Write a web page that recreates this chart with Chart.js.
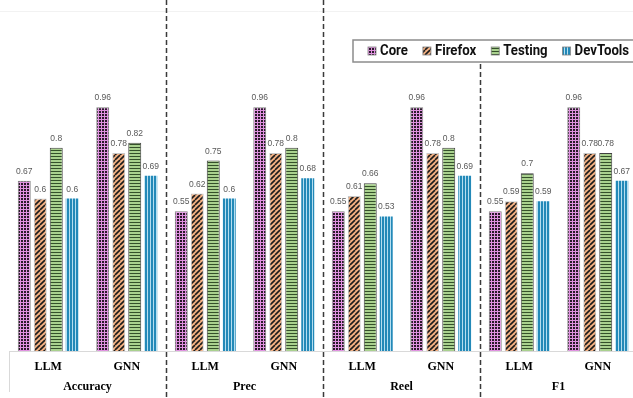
<!DOCTYPE html>
<html>
<head>
<meta charset="utf-8">
<script src="https://cdn.jsdelivr.net/npm/chart.js@4.4.1/dist/chart.umd.min.js"></script>
<style>
  html, body { margin: 0; padding: 0; background: #fff; overflow: hidden; }
  #wrap { width: 637px; height: 398px; position: relative; }
</style>
</head>
<body>
<div id="wrap"><canvas id="chart"></canvas></div>
<script>
// chart data
const categories = ['LLM', 'GNN', 'LLM', 'GNN', 'LLM', 'GNN', 'LLM', 'GNN'];
const groups = ['Accuracy', 'Prec', 'Reel', 'F1'];
const seriesNames = ['Core', 'Firefox', 'Testing', 'DevTools'];
const core = [0.67, 0.96, 0.55, 0.96, 0.55, 0.96, 0.55, 0.96];
const firefox = [0.6, 0.78, 0.62, 0.78, 0.61, 0.78, 0.59, 0.78];
const testing = [0.8, 0.82, 0.75, 0.8, 0.66, 0.8, 0.7, 0.78];
const devtools = [0.6, 0.69, 0.6, 0.68, 0.53, 0.69, 0.59, 0.67];

let canvas = document.getElementById('chart');
let mainCtx = canvas.getContext('2d');

// build a repeating fill from a small tile
function makePattern(w, h, draw){
	let tile = document.createElement('canvas');
	tile.width = w;
	tile.height = h;
	draw(tile.getContext('2d'), w, h);
	return mainCtx.createPattern(tile, 'repeat');
}

let corePattern = makePattern(3, 3, (g, w, h) => {
	g.fillStyle = '#e091e0';
	g.fillRect(0, 0, w, h);
	g.fillStyle = '#2a1a2a';
	g.fillRect(0, 0, 2, 2);
});

let firefoxPattern = makePattern(5, 5, (g, w, h) => {
	g.fillStyle = '#f4b183';
	g.fillRect(0, 0, w, h);
	g.strokeStyle = '#1c1c1c';
	g.lineWidth = 1.6;
	for(let k = -1; k <= 1; k++){
		g.beginPath();
		g.moveTo(k * w, h);
		g.lineTo(k * w + w, 0);
		g.stroke();
	}
});

let testingPattern = makePattern(3, 3, (g, w, h) => {
	g.fillStyle = '#a9d18e';
	g.fillRect(0, 0, w, h);
	g.fillStyle = '#34502a';
	g.fillRect(0, 0, w, 1);
});

let devtoolsPattern = makePattern(3, 3, (g, w, h) => {
	g.fillStyle = '#2389b8';
	g.fillRect(0, 0, w, h);
	g.fillStyle = '#b5def0';
	g.fillRect(0, 0, 1, h);
});

// value labels above every bar
const valueLabels = {
	id: 'valueLabels',
	afterDatasetsDraw(chart){
		let ctx = chart.ctx;
		ctx.save();
		ctx.font = '8.5px "Liberation Sans", Arial, sans-serif';
		ctx.fillStyle = '#595959';
		ctx.textAlign = 'center';
		ctx.textBaseline = 'bottom';
		chart.data.datasets.forEach((ds, i) => {
			chart.getDatasetMeta(i).data.forEach((bar, j) => {
				ctx.fillText(String(ds.data[j]), bar.x, bar.y - 5);
			});
		});
		ctx.restore();
	}
};

// legend box (drawn by hand to get the framed look)
const legendBox = { x: 353, y: 40, w: 300, h: 22 };
const legendSquash = 0.91; // the legend font is a narrow one

const frameAndLegend = {
	id: 'frameAndLegend',
	afterDraw(chart){
		let ctx = chart.ctx;
		let xs = chart.scales.x;
		let area = chart.chartArea;
		ctx.save();

		// faint top line
		ctx.strokeStyle = '#f2f2f2';
		ctx.lineWidth = 1;
		ctx.beginPath();
		ctx.moveTo(0, 11.5);
		ctx.lineTo(chart.width, 11.5);
		ctx.stroke();

		// left edge of the label band
		ctx.strokeStyle = '#d9d9d9';
		ctx.beginPath();
		ctx.moveTo(area.left + 0.5, area.bottom);
		ctx.lineTo(area.left + 0.5, area.bottom + 41);
		ctx.stroke();

		// dashed separators between metric groups
		ctx.strokeStyle = '#3a3a3a';
		ctx.lineWidth = 1.5;
		ctx.setLineDash([5, 3]);
		for(let i = 2; i < categories.length; i += 2){
			let x = Math.round((xs.getPixelForValue(i - 1) + xs.getPixelForValue(i)) / 2) + 0.5;
			let top = (x > legendBox.x && x < legendBox.x + legendBox.w) ? legendBox.y + legendBox.h + 2 : 0;
			ctx.beginPath();
			ctx.moveTo(x, top);
			ctx.lineTo(x, chart.height);
			ctx.stroke();
		}
		ctx.setLineDash([]);

		// legend
		ctx.fillStyle = '#ffffff';
		ctx.fillRect(legendBox.x, legendBox.y, legendBox.w, legendBox.h);
		ctx.strokeStyle = '#8c8c8c';
		ctx.lineWidth = 1.5;
		ctx.strokeRect(legendBox.x, legendBox.y, legendBox.w, legendBox.h);

		ctx.font = 'bold 14.5px Roboto, "DejaVu Sans", sans-serif';
		ctx.textBaseline = 'middle';
		ctx.textAlign = 'left';
		let cx = legendBox.x + 15;
		let cy = legendBox.y + legendBox.h / 2;
		chart.data.datasets.forEach(ds => {
			ctx.fillStyle = ds.backgroundColor;
			ctx.fillRect(cx, cy - 4, 8, 8);
			ctx.strokeStyle = '#7f7f7f';
			ctx.lineWidth = 0.8;
			ctx.strokeRect(cx, cy - 4, 8, 8);
			ctx.fillStyle = '#111111';
			ctx.save();
			ctx.translate(cx + 12, cy + 0.5);
			ctx.scale(legendSquash, 1);
			ctx.fillText(ds.label, 0, 0);
			ctx.restore();
			cx += 12 + ctx.measureText(ds.label).width * legendSquash + 15;
		});
		ctx.restore();
	}
};

let myChart = new Chart(canvas, {
	type: 'bar',
	data: {
		labels: categories,
		datasets: [
			{ label: seriesNames[0], data: core, backgroundColor: corePattern, borderColor: '#808080', borderWidth: 1 },
			{ label: seriesNames[1], data: firefox, backgroundColor: firefoxPattern, borderColor: '#c8c8c8', borderWidth: 1 },
			{ label: seriesNames[2], data: testing, backgroundColor: testingPattern, borderColor: '#404040', borderWidth: 1 },
			{ label: seriesNames[3], data: devtools, backgroundColor: devtoolsPattern, borderWidth: 0 }
		]
	},
	options: {
		responsive: true,
		maintainAspectRatio: false,
		animation: false,
		categoryPercentage: 0.815,
		barPercentage: 0.81,
		layout: { padding: { left: 9, right: 0, top: 0, bottom: 0 } },
		plugins: {
			legend: { display: false },
			tooltip: { enabled: false }
		},
		scales: {
			y: { display: false, min: 0, max: 1.382 },
			x: {
				weight: 0,
				grid: { display: false, drawTicks: false },
				border: { display: true, color: '#d9d9d9', width: 1 },
				ticks: {
					color: '#000',
					padding: 9,
					font: { family: '"Liberation Serif", "Times New Roman", serif', weight: 'bold', size: 12 }
				},
				afterFit: s => { s.height = 24; }
			},
			x2: {
				type: 'category',
				position: 'bottom',
				labels: groups,
				offset: true,
				weight: 1,
				grid: { display: false, drawTicks: false },
				border: { display: false },
				ticks: {
					color: '#000',
					padding: 5,
					font: { family: '"Liberation Serif", "Times New Roman", serif', weight: 'bold', size: 12 }
				},
				afterFit: s => { s.height = 23; }
			}
		}
	},
	plugins: [valueLabels, frameAndLegend]
});
</script>
</body>
</html>
